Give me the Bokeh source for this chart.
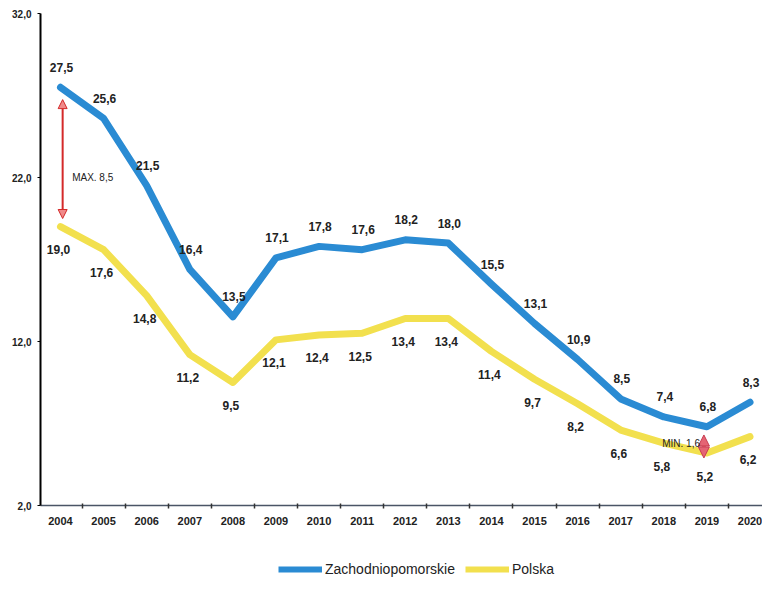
from bokeh.plotting import figure
from bokeh.layouts import column
from bokeh.models import Range1d, FixedTicker, Arrow, NormalHead, Label, Legend, LegendItem, ColumnDataSource
from bokeh.core.properties import value
from bokeh.embed import file_html
from bokeh.resources import INLINE

years = list(range(2004, 2021))
zachodniopomorskie = [27.5, 25.6, 21.5, 16.4, 13.5, 17.1, 17.8, 17.6, 18.2, 18.0,
                      15.5, 13.1, 10.9, 8.5, 7.4, 6.8, 8.3]
polska = [19.0, 17.6, 14.8, 11.2, 9.5, 12.1, 12.4, 12.5, 13.4, 13.4,
          11.4, 9.7, 8.2, 6.6, 5.8, 5.2, 6.2]
y_ticks = [2, 12, 22, 32]
y_tick_labels = ["2,0", "12,0", "22,0", "32,0"]
series_names = ["Zachodniopomorskie", "Polska"]


def fmt(v):
    return f"{v:.1f}".replace(".", ",")


FONT_NAME = "Liberation Sans"
FONT = value(FONT_NAME)
BLUE = "#2a8bd3"
YELLOW = "#f2e04e"

p = figure(width=762, height=533, output_backend="svg", toolbar_location=None,
           x_range=Range1d(2003.536, 2020.29), y_range=Range1d(2, 32),
           min_border_left=40, min_border_top=13, min_border_right=0,
           min_border_bottom=28)
p.xgrid.visible = False
p.ygrid.visible = False
p.outline_line_color = None
p.background_fill_color = "white"
p.border_fill_color = "white"

r1 = p.line(years, zachodniopomorskie, line_color=BLUE, line_width=7,
            line_join="round", line_cap="round")
r2 = p.line(years, polska, line_color=YELLOW, line_width=7,
            line_join="round", line_cap="round")

src_z = ColumnDataSource(dict(x=years, y=zachodniopomorskie,
                              t=[fmt(v) for v in zachodniopomorskie]))
src_p = ColumnDataSource(dict(x=years, y=polska, t=[fmt(v) for v in polska]))

p.text(x="x", y="y", text="t", source=src_z, text_font=FONT,
       text_font_style="bold", text_font_size="12px", text_align="center",
       text_baseline="middle", y_offset=-20, x_offset=1, text_color="#222222")
p.text(x="x", y="y", text="t", source=src_p, text_font=FONT,
       text_font_style="bold", text_font_size="12px", text_align="center",
       text_baseline="middle", y_offset=23, x_offset=-2, text_color="#222222")

# MAX difference arrow (2004)
max_diff = zachodniopomorskie[0] - polska[0]
p.add_layout(Arrow(
    start=NormalHead(size=9, fill_color="#f08a8a", line_color="#d42a2a", line_width=1),
    end=NormalHead(size=9, fill_color="#f08a8a", line_color="#d42a2a", line_width=1),
    x_start=years[0] + 0.05, y_start=zachodniopomorskie[0] - 0.75,
    x_end=years[0] + 0.05, y_end=polska[0] + 0.5,
    line_color="#d42a2a", line_width=2))
p.add_layout(Label(x=years[0] + 0.27, y=22.0, text="MAX. " + fmt(max_diff),
                   text_font=FONT_NAME, text_font_size="10px", text_baseline="middle",
                   text_color="#222222"))

# MIN difference arrow (2019)
i_min = years.index(2019)
min_diff = zachodniopomorskie[i_min] - polska[i_min]
p.add_layout(Arrow(
    start=NormalHead(size=11, fill_color="#e56474", line_color="#c83c50", line_width=1),
    end=NormalHead(size=11, fill_color="#e56474", line_color="#c83c50", line_width=1),
    x_start=2019 - 0.07, y_start=zachodniopomorskie[i_min] - 0.5,
    x_end=2019 - 0.07, y_end=polska[i_min] - 0.3,
    line_color="#d04a5c", line_width=4))
p.add_layout(Label(x=2019 - 0.16, y=(zachodniopomorskie[i_min] + polska[i_min]) / 2 - 0.2,
                   text="MIN. " + fmt(min_diff), text_font=FONT_NAME, text_font_size="10px",
                   text_align="right", text_baseline="middle", text_color="#222222"))

# axes
p.yaxis.ticker = FixedTicker(ticks=y_ticks)
p.yaxis.major_label_overrides = {t: l for t, l in zip(y_ticks, y_tick_labels)}
p.yaxis.axis_line_color = "black"
p.yaxis.axis_line_width = 2
p.yaxis.major_tick_out = 3
p.yaxis.major_tick_in = 0
p.yaxis.minor_tick_line_color = None
p.yaxis.major_label_text_font = FONT_NAME
p.yaxis.major_label_text_font_style = "bold"
p.yaxis.major_label_text_font_size = "10px"
p.yaxis.major_label_text_color = "#222222"
p.yaxis.major_label_standoff = 6

p.xaxis.ticker = FixedTicker(ticks=years,
                             minor_ticks=[y - 0.5 for y in years] + [years[-1] + 0.5])
p.xaxis.axis_line_color = "#4a5566"
p.xaxis.axis_line_width = 1.5
p.xaxis.major_tick_out = 0
p.xaxis.major_tick_in = 0
p.xaxis.minor_tick_out = 3
p.xaxis.minor_tick_in = 2
p.xaxis.minor_tick_line_color = "#333333"
p.xaxis.minor_tick_line_width = 1.5
p.xaxis.major_label_text_font = FONT_NAME
p.xaxis.major_label_text_font_style = "bold"
p.xaxis.major_label_text_font_size = "11px"
p.xaxis.major_label_text_color = "#222222"
p.xaxis.major_label_standoff = 8

# legend strip below the chart (series drawn off-screen, only their legend shows)
lg = figure(width=762, height=54, output_backend="svg", toolbar_location=None,
            x_range=Range1d(0, 1), y_range=Range1d(0, 1),
            min_border_left=0, min_border_right=0, min_border_top=0, min_border_bottom=0)
lg.axis.visible = False
lg.grid.visible = False
lg.outline_line_color = None
lr1 = lg.line(years, zachodniopomorskie, line_color=BLUE, line_width=6)
lr2 = lg.line(years, polska, line_color=YELLOW, line_width=6)
legend = Legend(items=[LegendItem(label=series_names[0], renderers=[lr1]),
                       LegendItem(label=series_names[1], renderers=[lr2])],
                orientation="horizontal", location=(238, 10),
                border_line_color=None, background_fill_alpha=0,
                label_text_font=FONT_NAME, label_text_font_size="14px",
                label_text_color="#222222",
                glyph_width=44, glyph_height=14, spacing=10, label_standoff=3,
                padding=4, margin=0)
lg.add_layout(legend)

layout = column(p, lg, spacing=0)
open("out.html", "w").write(file_html(layout, INLINE))
